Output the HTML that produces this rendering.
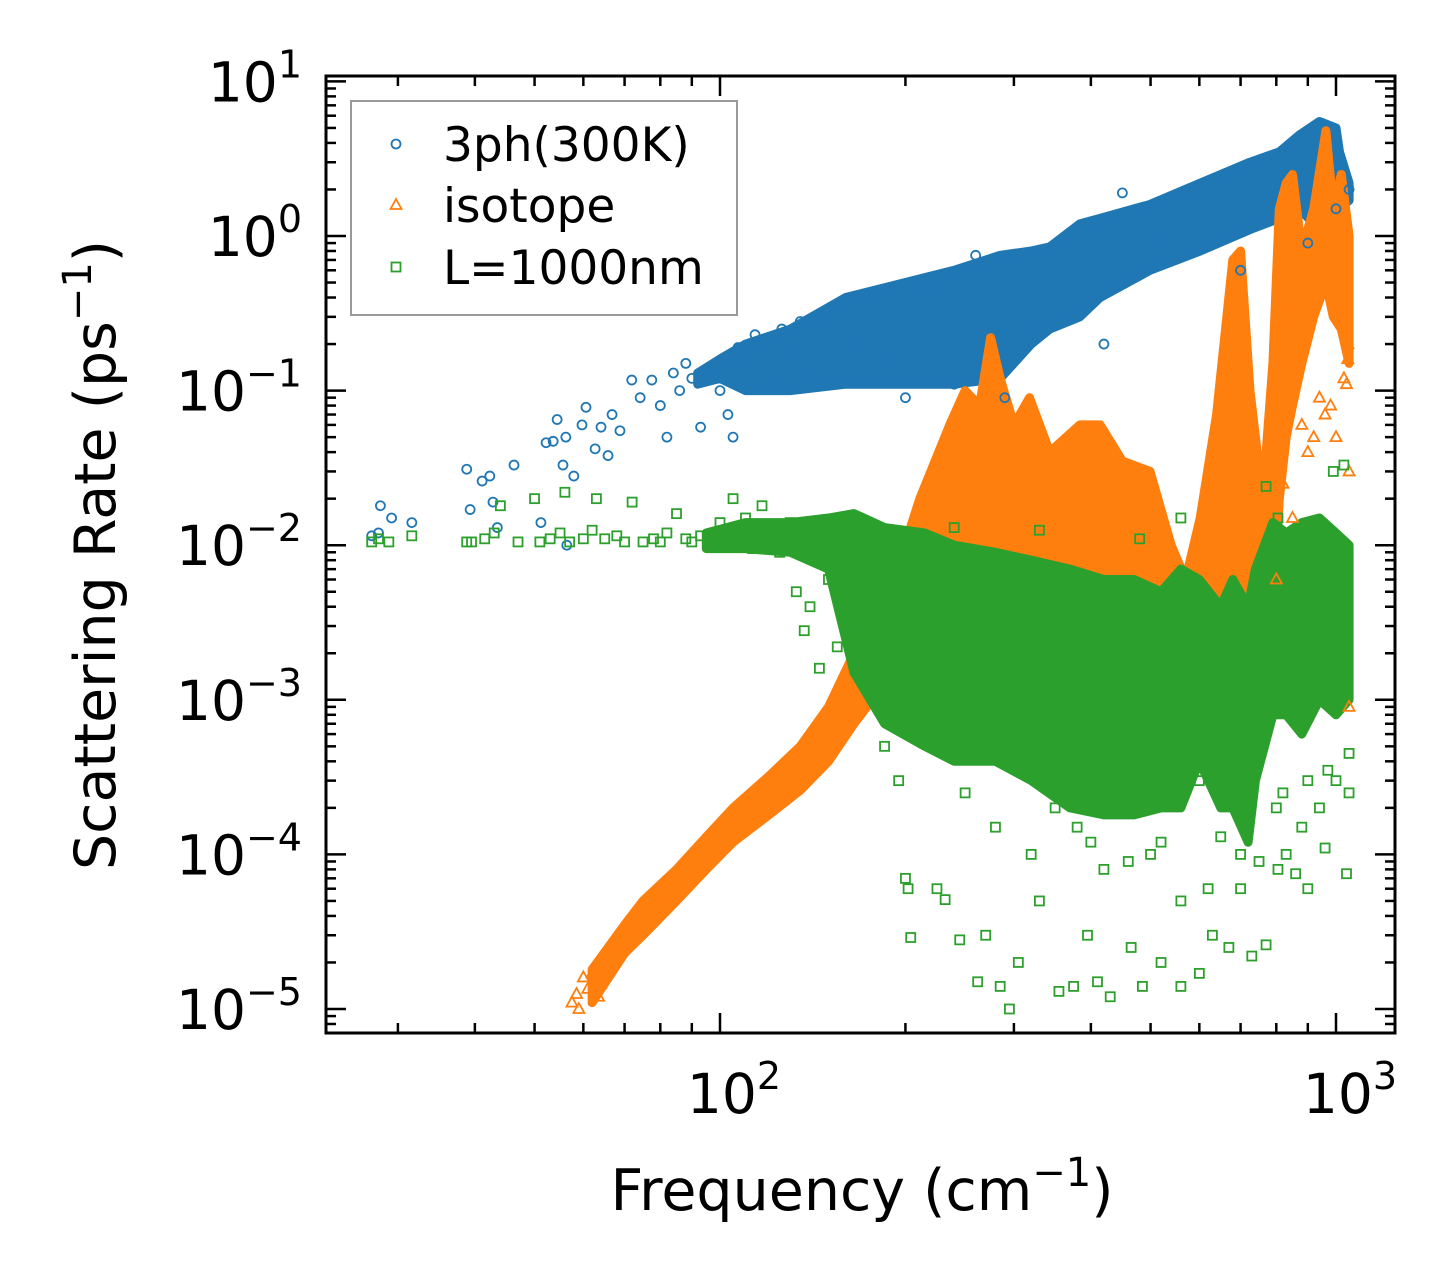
<!DOCTYPE html>
<html><head><meta charset="utf-8"><style>
html,body{margin:0;padding:0;background:#fff;}
svg{display:block;}
text{font-family:"DejaVu Sans","Liberation Sans",sans-serif;fill:#000;}
</style></head><body>
<svg id="chart" width="1455" height="1283" viewBox="0 0 1455 1283" xmlns="http://www.w3.org/2000/svg">
<g id="bands"></g>
<g id="marks"></g>
<g id="axes"></g>
</svg>
<script>
// ---- data (frequency in cm^-1, rate in ps^-1) ----
const xTickValues = [100, 1000];
const xTickLabels = ["2", "3"];
const yTickValues = [10, 1, 0.1, 0.01, 0.001, 0.0001, 0.00001];
const yTickLabels = ["1", "0", "\u22121", "\u22122", "\u22123", "\u22124", "\u22125"];
const seriesNames = ["3ph(300K)", "isotope", "L=1000nm"];

const blueFreq = [27.2,27.9,28.1,29.3,31.6,38.8,39.3,41.1,42.3,42.8,43.5,46.3,51.2,52.2,53.6,54.4,55.6,56.2,56.4,57.9,59.7,60.6,62.7,64.1,65.8,66.8,68.8,71.9,74.2,77.5,80,82,84,86,88,90,93,96,100,103,105,107,110,114,118,122,126,130,135,140,145,155,165,175,185,200,215,240,260,290,330,420,450,520,700,900,1000,1050];
const blueRate = [0.0115,0.012,0.018,0.015,0.014,0.031,0.017,0.026,0.028,0.019,0.013,0.033,0.014,0.046,0.047,0.065,0.033,0.05,0.010,0.028,0.06,0.078,0.042,0.058,0.038,0.07,0.055,0.117,0.09,0.117,0.08,0.05,0.13,0.10,0.15,0.12,0.058,0.14,0.10,0.07,0.05,0.19,0.16,0.23,0.2,0.11,0.25,0.17,0.28,0.13,0.30,0.35,0.2,0.42,0.16,0.09,0.45,0.11,0.75,0.09,0.26,0.2,1.9,0.9,0.6,0.9,1.5,2.0];
const blueBandFreq = [92,100,110,130,160,200,240,285,320,343,384,414,499,602,725,809,872,940,1000,1013,1050];
const blueBandLo = [0.11,0.12,0.10,0.10,0.11,0.11,0.11,0.12,0.2,0.25,0.3,0.4,0.6,0.8,1.1,1.3,1.5,1.1,1.2,1.5,1.7];
const blueBandHi = [0.13,0.16,0.2,0.25,0.4,0.5,0.6,0.75,0.8,0.85,1.2,1.3,1.6,2.2,3.0,3.5,4.5,5.5,5.0,3.5,2.2];

const orangeFreq = [57.5,58.5,59,60,61,62,63.5,64,66,70,72,74,1050,1050,1040,1000,980,960,940,920,900,880,850,820,800,1045,1045,1030];
const orangeRate = [1.1e-5,1.25e-5,1.0e-5,1.6e-5,1.35e-5,1.7e-5,1.2e-5,1.45e-5,1.8e-5,2.6e-5,3.2e-5,3.8e-5,0.03,0.0009,0.11,0.05,0.08,0.07,0.09,0.05,0.04,0.06,0.015,0.025,0.006,0.16,0.2,0.12];
const orangeBandFreq = [62,70,75,85,95,105,120,135,150,165,180,196,211,236,250,264,275,285,300,318,343,384,414,450,499,540,570,602,640,680,700,725,760,790,809,830,850,880,920,963,990,1020,1050];
const orangeBandLo = [1.1e-5,2.3e-5,3e-5,5e-5,8e-5,1.2e-4,1.8e-4,2.6e-4,4e-4,7e-4,1.1e-3,2e-3,0.003,0.003,0.004,0.005,0.006,0.008,0.005,0.004,0.003,0.003,0.002,0.002,0.0015,0.001,0.001,0.002,0.003,0.003,0.003,0.003,0.002,0.004,0.02,0.05,0.08,0.15,0.3,0.5,0.3,0.25,0.15];
const orangeBandHi = [1.8e-5,3.5e-5,5e-5,8e-5,1.3e-4,2e-4,3.2e-4,5e-4,9e-4,2e-3,4e-3,0.008,0.02,0.06,0.1,0.08,0.22,0.12,0.06,0.09,0.04,0.06,0.06,0.035,0.03,0.01,0.006,0.015,0.07,0.7,0.8,0.1,0.02,0.15,1.5,2.2,2.5,0.8,1.5,4.8,1.5,2.5,1.0];

const greenFreq = [27.2,27.9,29,31.6,38.8,39.5,41.5,43,44,47,50,51,53,55,56,57,60,62,63,65,68,70,72,75,78,80,82,85,88,90,93,96,100,102,105,108,110,113,117,120,125,130,133,137,140,145,150,155,160,150,185,195,200,202,204,225,232,245,262,270,285,295,305,330,355,375,395,410,430,465,485,520,560,600,630,670,700,730,770,805,830,860,900,960,1000,1040,1050,1050,770,805,990,1030,560,480,330,240,300,450,600,700,350,250,400,500,800,900,280,320,380,420,460,520,560,620,650,750,820,880,940,970];
const greenRate = [0.0105,0.011,0.0105,0.0115,0.0105,0.0105,0.011,0.012,0.018,0.0105,0.02,0.0105,0.011,0.012,0.022,0.0105,0.011,0.0125,0.02,0.011,0.0115,0.0105,0.019,0.0105,0.011,0.0105,0.012,0.016,0.011,0.0105,0.0115,0.011,0.014,0.012,0.02,0.011,0.015,0.0095,0.018,0.011,0.009,0.014,0.005,0.0028,0.004,0.0016,0.006,0.0022,0.012,0.0095,0.0005,0.0003,7e-5,6e-5,2.9e-5,6e-5,5.1e-5,2.8e-5,1.5e-5,3e-5,1.4e-5,1.0e-5,2e-5,5e-5,1.3e-5,1.4e-5,3e-5,1.5e-5,1.2e-5,2.5e-5,1.4e-5,2e-5,1.4e-5,1.7e-5,3e-5,2.5e-5,6e-5,2.2e-5,2.6e-5,8e-5,1e-4,7.5e-5,6e-5,1.1e-4,3e-4,7.5e-5,2.5e-4,4.5e-4,0.024,0.015,0.03,0.033,0.015,0.011,0.0125,0.013,0.0045,0.0008,0.0003,0.0001,0.0002,0.00025,0.00012,0.0001,0.0002,0.0003,0.00015,0.0001,0.00015,8e-5,9e-5,0.00012,5e-5,6e-5,0.00013,9e-5,0.00025,0.00015,0.0002,0.00035];
const greenBandFreq = [95,110,130,150,165,185,215,240,280,320,370,420,470,520,560,600,650,680,720,740,790,830,880,940,1000,1050];
const greenBandLo = [0.0095,0.0095,0.009,0.007,0.0015,0.0007,0.0005,0.0004,0.0004,0.0003,0.0002,0.00018,0.00018,0.0002,0.0002,0.0004,0.0002,0.0002,0.00012,0.0003,0.0008,0.0008,0.0006,0.001,0.0008,0.001];
const greenBandHi = [0.012,0.014,0.014,0.015,0.016,0.013,0.012,0.01,0.009,0.008,0.007,0.006,0.006,0.005,0.007,0.006,0.004,0.006,0.004,0.007,0.014,0.012,0.014,0.015,0.012,0.01];

// ---- layout ----
const L=326, R=1395, T=76, B=1033;
const xLogMin = 2 - (720-L)/616, xLogMax = 3 + (R-1336)/616;
const yLogMax = 1 + (81.4-T)/154.6, yLogMin = -5 - (B-1009)/154.6;
function xs(v){ return L + (Math.log10(v)-xLogMin)/(xLogMax-xLogMin)*(R-L); }
function ys(v){ return T + (yLogMax-Math.log10(v))/(yLogMax-yLogMin)*(B-T); }

const NS="http://www.w3.org/2000/svg";
function mk(tag, parent, attrs){ const e=document.createElementNS(NS,tag); for(const k in attrs) e.setAttribute(k, attrs[k]); parent.appendChild(e); return e; }
const bands=document.getElementById('bands'), marks=document.getElementById('marks'), axes=document.getElementById('axes');
const C=["#1f77b4","#ff7f0e","#2ca02c"];

function band(freq, lo, hi, color, name){
  let pts=[];
  for(let i=0;i<freq.length;i++) pts.push(xs(freq[i]).toFixed(1)+","+ys(hi[i]).toFixed(1));
  for(let i=freq.length-1;i>=0;i--) pts.push(xs(freq[i]).toFixed(1)+","+ys(lo[i]).toFixed(1));
  const p=mk('polygon', bands, {points:pts.join(' '), fill:color, stroke:color, 'stroke-width':9, 'stroke-linejoin':'round'});
  
  
}
function marker(kind, x, y, color, parent){
  let e;
  if(kind===0) e=mk('circle', parent, {cx:x, cy:y, r:4.5, fill:'none', stroke:color, 'stroke-width':1.8});
  else if(kind===1) e=mk('polygon', parent, {points:`${x},${y-6} ${x-5.5},${y+4} ${x+5.5},${y+4}`, fill:'none', stroke:color, 'stroke-width':1.8});
  else e=mk('rect', parent, {x:x-4.5, y:y-4.5, width:9, height:9, fill:'none', stroke:color, 'stroke-width':1.8});
  return e;
}
function points(freq, rate, kind, name){
  const g=mk('g', marks, {});
  
  
  for(let i=0;i<freq.length;i++){
    const m=marker(kind, xs(freq[i]), ys(rate[i]), C[kind], g);
    
    
  }
}
band(blueBandFreq, blueBandLo, blueBandHi, C[0], '3ph-dense-region');
points(blueFreq, blueRate, 0, '3ph-series');
band(orangeBandFreq, orangeBandLo, orangeBandHi, C[1], 'isotope-dense-region');
points(orangeFreq, orangeRate, 1, 'isotope-series');
band(greenBandFreq, greenBandLo, greenBandHi, C[2], 'boundary-dense-region');
points(greenFreq, greenRate, 2, 'boundary-series');

const frame=mk('rect', axes, {x:L, y:T, width:R-L, height:B-T, fill:'none', stroke:'#000', 'stroke-width':3});



for(let d=10; d<=1000; d*=10){
  for(let m=1;m<=9;m++){
    const v=d*m, x=xs(v);
    if(x<L+1||x>R-1) continue;
    const len = m===1?20:10;
    const t1=mk('line', axes, {x1:x,y1:B,x2:x,y2:B-len,stroke:'#000','stroke-width':2.5});
    
    
    const t2=mk('line', axes, {x1:x,y1:T,x2:x,y2:T+len,stroke:'#000','stroke-width':2.5});
    
    
  }
}
xTickValues.forEach((v,i)=>{
  const t=mk('text', axes, {x:xs(v)+14, y:1113, 'font-size':55, 'text-anchor':'middle'});
  
  
  t.innerHTML = '10<tspan dy="-24" font-size="38">'+xTickLabels[i]+'</tspan>';
});
for(let e=-6;e<=1;e++){
  for(let m=1;m<=9;m++){
    const v=m*Math.pow(10,e), y=ys(v);
    if(y<T+1||y>B-1) continue;
    const len = m===1?20:10;
    const t1=mk('line', axes, {x1:L,y1:y,x2:L+len,y2:y,stroke:'#000','stroke-width':2.5});
    
    
    const t2=mk('line', axes, {x1:R,y1:y,x2:R-len,y2:y,stroke:'#000','stroke-width':2.5});
    
    
  }
}
yTickValues.forEach((v,i)=>{
  const t=mk('text', axes, {x:302, y:ys(v)+20, 'font-size':55, 'text-anchor':'end'});
  
  
  t.innerHTML = '10<tspan dy="-24" font-size="38">'+yTickLabels[i]+'</tspan>';
});
const xt=mk('text', axes, {x:862, y:1210, 'font-size':57, 'text-anchor':'middle'});


xt.innerHTML='Frequency (cm<tspan dy="-24" font-size="40">\u22121</tspan><tspan dy="24">)</tspan>';
const yt=mk('text', axes, {x:0, y:0, 'font-size':57, 'text-anchor':'middle', transform:'translate(115,555) rotate(-90)'});


yt.innerHTML='Scattering Rate (ps<tspan dy="-24" font-size="40">\u22121</tspan><tspan dy="24">)</tspan>';

const lg=mk('g', axes, {});


mk('rect', lg, {x:351, y:101, width:386, height:214, fill:'#fff', stroke:'#999', 'stroke-width':2});
const legY=[144, 205, 267];
seriesNames.forEach((n,i)=>{
  const m=marker(i, 396, legY[i], C[i], lg);
  
  
  const t=mk('text', lg, {x:443, y:legY[i]+17, 'font-size':47});
  
  
  t.textContent=n;
});
</script>
</body></html>
